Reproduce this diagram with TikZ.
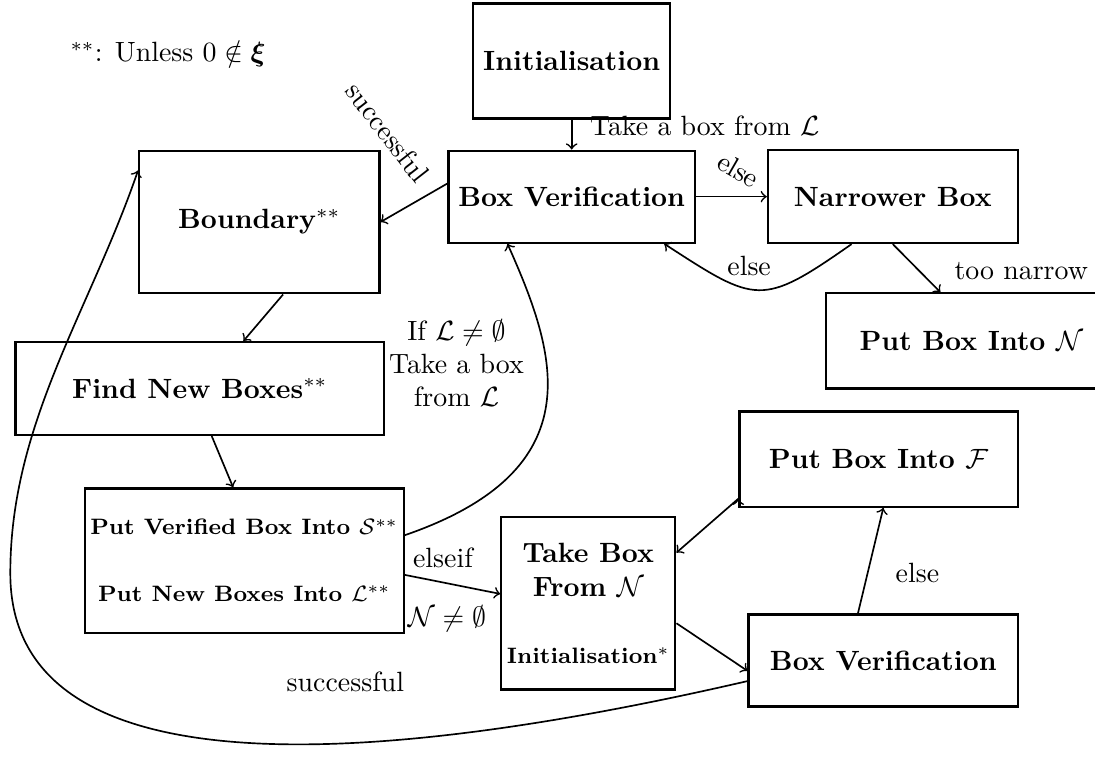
\documentclass[tikz,border=0pt]{standalone}
\usepackage{amsfonts,amsmath,amssymb}
\usepackage{tikz}
\usetikzlibrary{positioning}

\begin{document}
\begin{tikzpicture}
        % Setup the style for the boxes
        \tikzset{box style/.style={draw, rectangle,
                                   line width=0.8pt,
                                   inner sep=2pt,
                                   align=center,
                                   font=\bfseries},
                 link style/.style={->, line width=0.6pt}}
        \useasboundingbox (0,0) rectangle (13.81,9.55);

        % Draw the boxes
        \node[box style, minimum width=2.48cm, minimum height=1.45cm] at (7.21, 8.78) (init) {Initialisation};
        \node[box style, minimum width=3.11cm, minimum height=1.16cm] at (7.21, 7.07) (verify) {Box Verification};
        \node[box style, minimum width=3.15cm, minimum height=1.17cm] at (11.26, 7.07) (narrow) {Narrower Box};
        \node[box style, minimum width=3.03cm, minimum height=1.80cm] at (3.27, 6.75) (bound) {Boundary$^{**}$};
        \node[box style, minimum width=4.65cm, minimum height=1.17cm] at (2.52, 4.65) (newbox) {Find New Boxes$^{**}$};
        \node[box style, minimum width=3.88cm, minimum height=1.82cm, font=\bfseries\footnotesize] at (3.08, 2.48) (store)
            {Put Verified Box Into $\mathcal{S}^{**}$\\[14.5pt]Put New Boxes Into $\mathcal{L}^{**}$};
        \node[box style, minimum width=2.07cm, minimum height=2.17cm] at (7.42, 1.94) (takebox)
            {Take Box\\From $\mathcal{N}$\\[12pt]{\footnotesize Initialisation$^{*}$}};
        \node[box style, minimum width=3.51cm, minimum height=1.20cm] at (11.08, 3.76) (putf) {Put Box Into $\mathcal{F}$};
        \node[box style, minimum width=3.40cm, minimum height=1.16cm] at (11.14, 1.22) (verify2) {Box Verification};
        \node[box style, minimum width=3.66cm, minimum height=1.20cm] at (12.25, 5.25) (putn) {Put Box Into $\mathcal{N}$};
        \node at (2.12, 8.87) (note) {$^{**}$: Unless $0 \notin \boldsymbol{\xi}$};
        \coordinate (turn) at (0.13, 2.32);

        % Connect the boxes with arrows
        \draw[link style]
            (init)     edge            node[right=3pt, yshift=3pt] {Take a box from $\mathcal{L}$} (verify)
            (verify.174)     edge            node[xshift=-0.33cm, yshift=0.89cm, rotate=-52] {successful} (bound.east)
            (verify)     edge            node[xshift=0.09cm, yshift=0.34cm, rotate=-30] {else} (narrow)
            (narrow.229)     edge[out=-145, in=-33, looseness=1.5]            node[xshift=-0.12cm, yshift=0.31cm] {else} (verify.-27)
            (narrow.south)     edge            node[xshift=1.32cm, yshift=-0.04cm] {too narrow} ([xshift=-0.39cm]putn.north)
            ([xshift=0.3cm]bound.south)     edge            ([xshift=0.55cm]newbox.north)
            ([xshift=0.15cm]newbox.south)     edge            ([xshift=-0.14cm]store.north)
            ([yshift=0.32cm]store.east)     edge[out=19, in=-66, out distance=2.56cm, in distance=1.49cm]
                node[xshift=-1.13cm, yshift=0.53cm, align=center] {If $\mathcal{L} \neq \emptyset$\\Take a box\\from $\mathcal{L}$} ([xshift=-0.81cm]verify.south)
            ([yshift=-0.18cm]store.east)     edge            node[xshift=-0.12cm, yshift=0.34cm] {elseif}
                node[xshift=-0.07cm, yshift=-0.43cm] {$\mathcal{N} \neq \emptyset$} ([yshift=0.12cm]takebox.west)
            ([yshift=-0.25cm]takebox.east)     edge            ([yshift=-0.13cm]verify2.west)
            ([xshift=-0.32cm]verify2.north)     edge            node[xshift=0.59cm, yshift=-0.16cm] {else} ([xshift=0.06cm]putf.south)
            ([yshift=-0.5cm]putf.west)     edge            ([yshift=0.64cm]takebox.east);
        \draw[link style] ([yshift=-0.26cm]verify2.west)
            to[out=193, in=-90, out distance=5.67cm, in distance=2.52cm] node[pos=0.35, yshift=0.77cm] {successful} (turn)
            to[out=90, in=251, out distance=1.89cm, in distance=1.89cm] ([yshift=0.65cm]bound.west);
\end{tikzpicture}
\end{document}
